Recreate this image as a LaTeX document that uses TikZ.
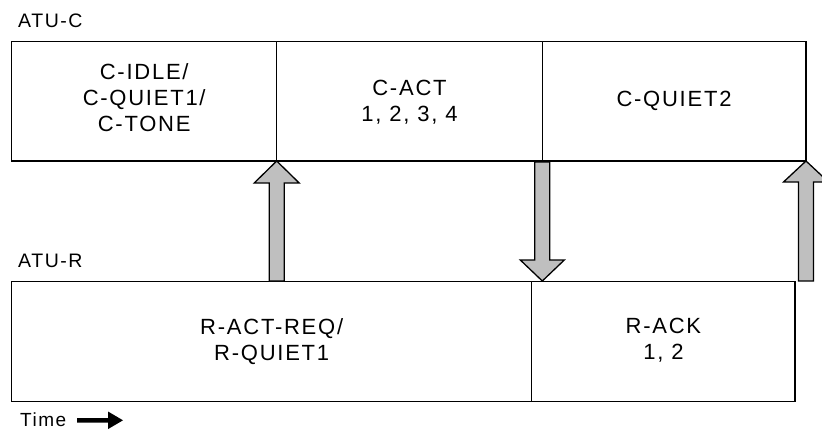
\documentclass[tikz,border=0pt]{standalone}
\usepackage{fontspec}
\setmainfont{Liberation Sans}[LetterSpace=8]
\usetikzlibrary{calc}

\tikzset{
  frame/.style={draw=black, line width=1.3pt, fill=white},
  boxtext/.style={anchor=base, inner sep=0pt, align=center,
    font=\fontsize{22}{26}\selectfont},
  linetag/.style={anchor=base west, inner sep=0pt,
    font=\fontsize{19.5}{23}\selectfont},
  blockarrow/.style={draw=black, line width=1.3pt, fill=black!25, line join=miter},
  timearrow/.style={fill=black, draw=none},
}

% Straight block arrow: #1 = name prefix, #2 = tail, #3 = tip,
% #4 = head length, #5 = shaft half width, #6 = head half width, #7 = style
\newcommand\blockarrowpath[7]{%
  \coordinate (#1h) at ($(#3)!#4!(#2)$);
  \path[#7]
    ($(#2)!#5!90:(#3)$) -- ($(#1h)!#5!90:(#3)$) -- ($(#1h)!#6!90:(#3)$)
    -- (#3)
    -- ($(#1h)!#6!-90:(#3)$) -- ($(#1h)!#5!-90:(#3)$) -- ($(#2)!#5!-90:(#3)$)
    -- cycle;
}

\begin{document}
\begin{tikzpicture}[x=1pt, y=-1pt]
  \useasboundingbox (0,0) rectangle (822,434);

  % ATU-C time line
  \draw[frame] (11.7,41.7) rectangle (806,161);
  \coordinate (cdivA) at (276.7,161);
  \coordinate (cdivB) at (542.3,161);
  \draw[frame] (276.7,41.7) -- (cdivA);
  \draw[frame] (542.3,41.7) -- (cdivB);
  \coordinate (cend) at (806,161);

  % ATU-R time line
  \draw[frame] (11.7,281.7) rectangle (795,401.7);
  \draw[frame] (531.7,281.7) -- (531.7,401.7);

  % line names and time axis
  \node[linetag] (atuc) at (18,27) {ATU-C};
  \node[linetag] (atur) at (18,267) {ATU-R};
  \node[linetag, font=\fontsize{19}{23}\selectfont] (time) at (20,426) {Time};

  % state texts (base = last line)
  \node[boxtext] (cidle) at (144.2,131.3) {C-IDLE/\\C-QUIET1/\\C-TONE};
  \node[boxtext] (cact) at (409.5,121) {C-ACT\\1, 2, 3, 4};
  \node[boxtext] (cquiet) at (674,106.7) {C-QUIET2};
  \node[boxtext] (ractreq) at (271.7,360) {R-ACT-REQ/\\R-QUIET1};
  \node[boxtext] (rack) at (663.4,359.5) {R-ACK\\1, 2};

  % transitions between the two lines
  \coordinate (t1) at (276.7,281);
  \coordinate (t2) at (542.3,162);
  \coordinate (t2tip) at (542.3,281);
  \coordinate (t3) at (806,281);
  \blockarrowpath{a1}{t1}{cdivA}{22pt}{7.5pt}{22.5pt}{blockarrow}
  \blockarrowpath{a2}{t2}{t2tip}{21pt}{7.5pt}{22pt}{blockarrow}
  \blockarrowpath{a3}{t3}{cend}{21pt}{7.5pt}{22.5pt}{blockarrow}

  % time direction arrow
  \coordinate (tarrow) at (77,420.3);
  \coordinate (tarrowtip) at (123,420.3);
  \blockarrowpath{a4}{tarrow}{tarrowtip}{15pt}{2.3pt}{8.8pt}{timearrow}
\end{tikzpicture}
\end{document}
